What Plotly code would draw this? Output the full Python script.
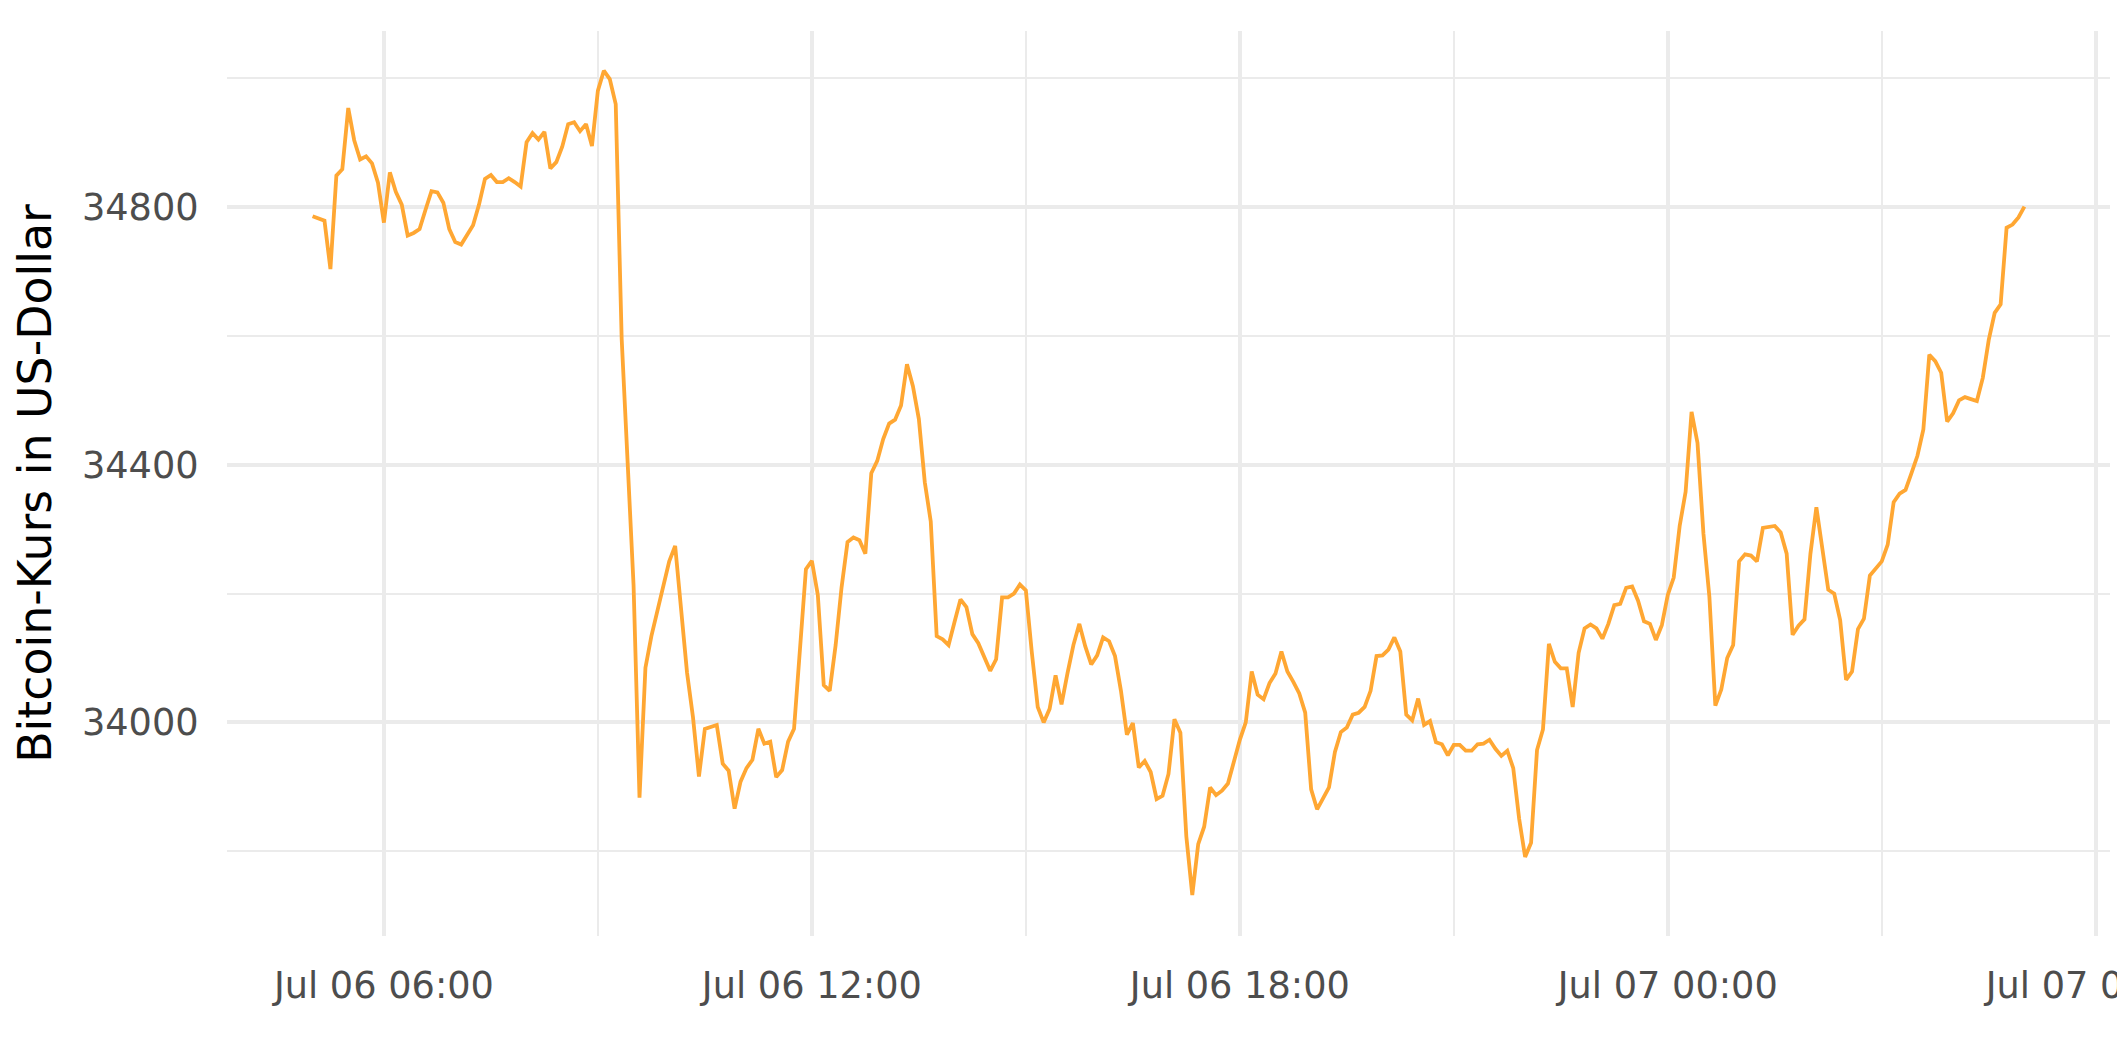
import pandas as pd
import plotly.graph_objects as go

# ---- data: Bitcoin price (USD), 5-minute steps from Jul 06 2021 05:00 to Jul 07 2021 05:00
start_time = "2021-07-06 05:00"
step = "5min"

price_05_11 = [34786, 34783, 34779, 34704, 34849, 34859, 34954, 34904, 34874, 34879, 34868, 34838,
               34776, 34854, 34824, 34804, 34756, 34760, 34766, 34796, 34825, 34823, 34807, 34766,
               34746, 34742, 34756, 34772, 34804, 34844, 34850, 34839, 34839, 34845, 34839, 34832,
               34901, 34915, 34905, 34917, 34860, 34870, 34894, 34929, 34932, 34918, 34929, 34895,
               34981, 35012, 34999, 34960, 34596, 34404, 34213, 33883, 34085, 34134, 34173, 34217,
               34250, 34274, 34178, 34077, 34008, 33916, 33990, 33993, 33996, 33936, 33925, 33866]
price_11_17 = [33908, 33929, 33942, 33990, 33967, 33970, 33915, 33926, 33970, 33990, 34117, 34238,
               34251, 34198, 34058, 34049, 34120, 34210, 34280, 34287, 34283, 34262, 34387, 34406,
               34440, 34464, 34470, 34492, 34556, 34522, 34471, 34373, 34312, 34134, 34129, 34120,
               34156, 34191, 34179, 34137, 34123, 34103, 34080, 34098, 34194, 34194, 34200, 34214,
               34205, 34109, 34024, 34000, 34021, 34073, 34028, 34076, 34120, 34153, 34118, 34090,
               34104, 34132, 34126, 34103, 34049, 33981, 33999, 33930, 33940, 33923, 33881, 33886]
price_17_23 = [33920, 34005, 33984, 33823, 33732, 33811, 33838, 33899, 33887, 33894, 33905, 33939,
               33973, 34000, 34079, 34043, 34036, 34061, 34076, 34110, 34079, 34063, 34045, 34015,
               33896, 33865, 33882, 33899, 33954, 33985, 33992, 34012, 34015, 34024, 34049, 34103,
               34104, 34113, 34132, 34110, 34012, 34003, 34037, 33996, 34002, 33969, 33966, 33949,
               33965, 33965, 33956, 33956, 33966, 33967, 33973, 33959, 33948, 33956, 33929, 33850,
               33791, 33813, 33957, 33989, 34122, 34094, 34084, 34084, 34024, 34108, 34146, 34152]
price_23_05 = [34146, 34130, 34153, 34182, 34184, 34209, 34211, 34189, 34157, 34153, 34128, 34151,
               34198, 34225, 34305, 34358, 34482, 34434, 34293, 34195, 34026, 34051, 34100, 34120,
               34250, 34261, 34259, 34250, 34302, 34304, 34305, 34295, 34262, 34136, 34150, 34160,
               34262, 34334, 34267, 34206, 34200, 34159, 34066, 34079, 34145, 34161, 34228, 34240,
               34250, 34276, 34342, 34355, 34361, 34387, 34414, 34455, 34571, 34561, 34543, 34467,
               34480, 34500, 34505, 34502, 34499, 34535, 34594, 34636, 34649, 34768, 34773, 34784,
               34801]

prices = price_05_11 + price_11_17 + price_17_23 + price_23_05
times = pd.date_range(start=start_time, periods=len(prices), freq=step)

x_tick_vals = ["2021-07-06 06:00", "2021-07-06 12:00", "2021-07-06 18:00",
               "2021-07-07 00:00", "2021-07-07 06:00"]
x_tick_text = ["Jul 06 06:00", "Jul 06 12:00", "Jul 06 18:00", "Jul 07 00:00", "Jul 07 06:00"]
x_minor_vals = ["2021-07-06 03:00", "2021-07-06 09:00", "2021-07-06 15:00",
                "2021-07-06 21:00", "2021-07-07 03:00"]
y_tick_vals = [34000, 34400, 34800]
y_minor_vals = [33800, 34200, 34600, 35000]
y_title = "Bitcoin-Kurs in US-Dollar"

GRID = "#EBEBEB"
TICK_COL = "#4D4D4D"
FONT = "DejaVu Sans"

fig = go.Figure()
fig.add_trace(go.Scatter(x=times, y=prices, mode="lines",
                         line=dict(color="#FFA733", width=3.8), hoverinfo="x+y"))

fig.update_layout(
    width=2125, height=1062,
    margin=dict(l=219, r=23, t=23, b=134, autoexpand=False),
    paper_bgcolor="white", plot_bgcolor="white",
    showlegend=False,
    font=dict(family=FONT, color="black"),
)
fig.update_xaxes(
    type="date",
    range=["2021-07-06 03:48", "2021-07-07 06:12"],
    tickmode="array", tickvals=x_tick_vals, ticktext=x_tick_text,
    showgrid=True, gridcolor=GRID, gridwidth=4.2,
    minor=dict(tickvals=x_minor_vals, showgrid=True, gridcolor=GRID, gridwidth=2.2),
    zeroline=False, showline=False,
    ticks="outside", ticklen=17, tickcolor="rgba(0,0,0,0)",
    ticklabeloverflow="allow",
    tickfont=dict(family=FONT, size=36.7, color=TICK_COL),
    automargin=False,
)
fig.update_yaxes(
    range=[33668.3, 35073.6],
    tickmode="array", tickvals=y_tick_vals, ticktext=[str(v) for v in y_tick_vals],
    showgrid=True, gridcolor=GRID, gridwidth=4.2,
    minor=dict(tickvals=y_minor_vals, showgrid=True, gridcolor=GRID, gridwidth=2.2),
    zeroline=False, showline=False,
    ticks="outside", ticklen=20, tickcolor="rgba(0,0,0,0)",
    tickfont=dict(family=FONT, size=36.7, color=TICK_COL),
    title=dict(text=y_title, font=dict(family=FONT, size=45.8, color="black"), standoff=17),
    automargin=False,
)

fig.write_html("out.html")
